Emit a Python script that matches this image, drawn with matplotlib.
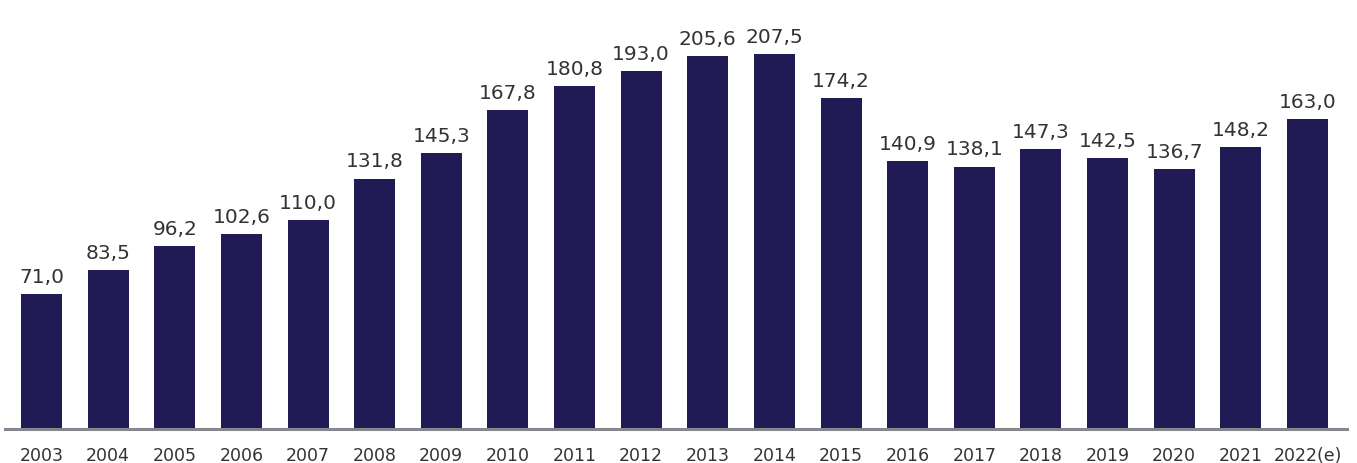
import numpy as np
import matplotlib
matplotlib.use("Agg")
import matplotlib.pyplot as plt

years = ["2003", "2004", "2005", "2006", "2007", "2008", "2009", "2010", "2011", "2012",
         "2013", "2014", "2015", "2016", "2017", "2018", "2019", "2020", "2021", "2022(e)"]
values = [71.0, 83.5, 96.2, 102.6, 110.0, 131.8, 145.3, 167.8, 180.8, 193.0,
          205.6, 207.5, 174.2, 140.9, 138.1, 147.3, 142.5, 136.7, 148.2, 163.0]

bar_color = "#201b55"
text_color = "#333333"

# the original chart squeezes the tallest bars a little; mimic with a piecewise scale
knee, squeeze = 180.0, 1.2 / 1.9


def fwd(v):
    v = np.asarray(v, dtype=float)
    return np.where(v <= knee, v, knee + (v - knee) * squeeze)


def inv(v):
    v = np.asarray(v, dtype=float)
    return np.where(v <= knee, v, knee + (v - knee) / squeeze)


fig = plt.figure(figsize=(13.57, 4.64), dpi=100)
ax = fig.add_axes([5 / 1357, 34 / 464, 1342 / 1357, 430 / 464])

x = np.arange(len(years))
bars = ax.bar(x, values, width=0.615, color=bar_color, zorder=2)
ax.bar_label(bars, labels=[f"{v:.1f}".replace(".", ",") for v in values],
             padding=6, fontsize=14.5, color=text_color)

ax.set_yscale("function", functions=(fwd, inv))
ax.set_ylim(0, float(inv(430 / 1.9)))
ax.set_xlim(-0.548, len(years) - 1 + 0.593)

ax.set_xticks(x)
ax.set_xticklabels(years, fontsize=12.5, color=text_color)
ax.tick_params(axis="x", length=0, pad=12)
ax.set_yticks([])
for side in ["top", "right", "left"]:
    ax.spines[side].set_visible(False)
ax.spines["bottom"].set_color("#86868f")
ax.spines["bottom"].set_linewidth(2.2)
ax.spines["bottom"].set_zorder(3)

fig.savefig("out.png", dpi=100)
